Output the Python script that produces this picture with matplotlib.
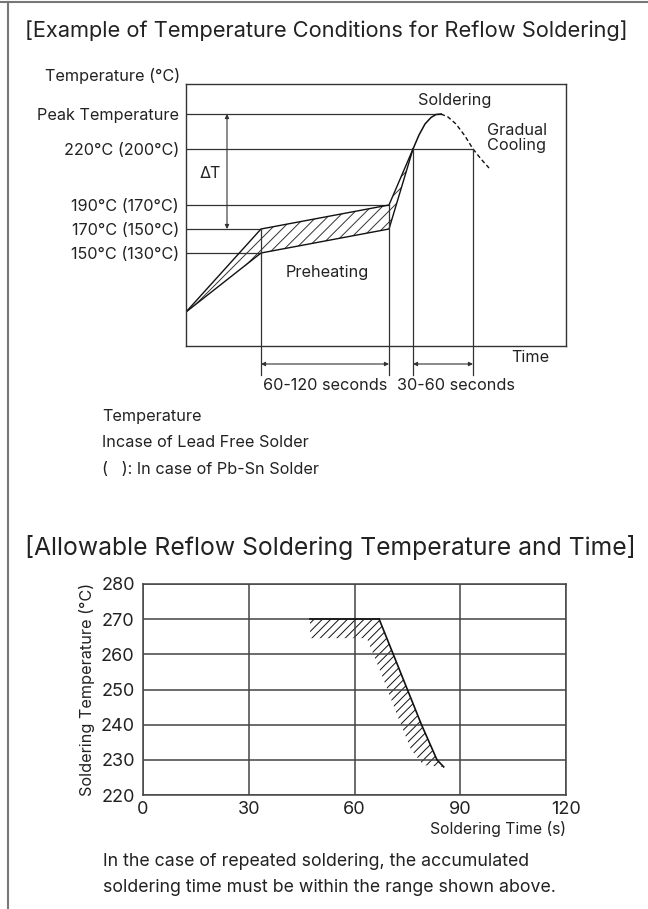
import matplotlib
matplotlib.use("Agg")
import matplotlib.pyplot as plt
from matplotlib.lines import Line2D

plt.rcParams['font.family'] = ['Inter', 'DejaVu Sans']
plt.rcParams['hatch.linewidth'] = 0.7

TXT = '#222222'
LN = '#333333'
FS = 11.7

# ---------------- Chart 1 (schematic profile) ----------------
level_labels = ['Peak Temperature', '220°C (200°C)', '190°C (170°C)',
                '170°C (150°C)', '150°C (130°C)']
level_y = [232, 197, 141, 117, 93]          # schematic heights
pre_x = [0, 75, 203, 227]                   # schematic time positions
pre_upper = [34, 117, 141, 197]
pre_lower = [34, 93, 117, 197]
sold_x = [227, 233, 239, 245, 250, 255]
sold_y = [197, 211, 222, 228.5, 231.5, 232]
cool_x = [255, 262, 270, 279, 287, 295, 303]
cool_y = [232, 229, 222, 210, 197, 187, 178]
level_ends = [255, 287, 203, 75, 75]
vert_x = [75, 203, 227, 287]
vert_top = [117, 141, 197, 197]
span_labels = ['60-120 seconds', '30-60 seconds']

# ---------------- Chart 2 (allowable) ----------------
lim_time = [67, 71, 75, 79, 83.4, 85.3]
lim_temp = [270, 260, 250, 240, 230, 228]
flat_time = [47.4, 67]
flat_temp = 270
band_time = [63.5, 67.8, 72, 76, 79.5]
band_temp = [264.6, 254, 243, 233, 228.5]
x_ticks = [0, 30, 60, 90, 120]
y_ticks = [220, 230, 240, 250, 260, 270, 280]

W, H = 648, 909
fig = plt.figure(figsize=(W / 100, H / 100), dpi=100)

def rect(l, t, r, b):
    return [l / W, 1 - b / H, (r - l) / W, (b - t) / H]

# border
fig.add_artist(Line2D([0, 1], [1 - 1.5 / H, 1 - 1.5 / H], color='#777777', lw=1.5))
fig.add_artist(Line2D([7.5 / W, 7.5 / W], [0, 1 - 1.5 / H], color='#777777', lw=1.5))

fig.text(25 / W, 1 - 31 / H, '[Example of Temperature Conditions for Reflow Soldering]',
         fontsize=15.7, color=TXT, va='center', ha='left')

ax1 = fig.add_axes(rect(186, 84, 566, 346))
ax1.set_xlim(0, 380)
ax1.set_ylim(0, 262)
for s in ax1.spines.values():
    s.set_color(LN)
    s.set_linewidth(1.0)
ax1.set_xticks([])
ax1.set_yticks(level_y, level_labels)
ax1.tick_params(axis='y', length=0, pad=5, labelsize=FS, labelcolor=TXT)

for y, xe in zip(level_y, level_ends):
    ax1.plot([0, xe], [y, y], color=LN, lw=0.9)

ax1.fill_between(pre_x, pre_lower, pre_upper, facecolor='none', edgecolor=LN,
                 hatch='///', lw=0)
ax1.plot(pre_x, pre_upper, color='#111111', lw=1.0)
ax1.plot(pre_x, pre_lower, color='#111111', lw=1.0)
ax1.plot(sold_x, sold_y, color='#111111', lw=1.1)
ax1.plot(cool_x, cool_y, color='#111111', lw=1.0, ls=(0, (3, 2)))

for x, yt in zip(vert_x, vert_top):
    ax1.plot([x, x], [yt, -29], color=LN, lw=0.9, clip_on=False)

arr = dict(arrowstyle='<|-|>', color=LN, lw=0.8, mutation_scale=6, shrinkA=0, shrinkB=0)
ax1.annotate('', xy=(vert_x[0], -18), xytext=(vert_x[1], -18), arrowprops=arr,
             annotation_clip=False)
ax1.annotate('', xy=(vert_x[2], -18), xytext=(vert_x[3], -18), arrowprops=arr,
             annotation_clip=False)
ax1.text((vert_x[0] + vert_x[1]) / 2, -39, span_labels[0], ha='center', va='center',
         fontsize=FS, color=TXT, clip_on=False)
ax1.text(270, -39, span_labels[1], ha='center', va='center',
         fontsize=FS, color=TXT, clip_on=False)
ax1.annotate('', xy=(41, level_y[0]), xytext=(41, level_y[3]), arrowprops=arr)
ax1.text(24, 173, 'ΔT', ha='center', va='center', fontsize=FS, color=TXT)
ax1.text(269, 246, 'Soldering', ha='center', va='center', fontsize=FS, color=TXT)
ax1.text(301, 208, 'Gradual\nCooling', ha='left', va='center', fontsize=FS,
         color=TXT, linespacing=0.95)
ax1.text(141, 73, 'Preheating', ha='center', va='center', fontsize=FS, color=TXT)
ax1.text(344, -11, 'Time', ha='center', va='center', fontsize=FS, color=TXT,
         clip_on=False)
ax1.text(-6, 270, 'Temperature (°C)', ha='right', va='center', fontsize=FS,
         color=TXT, clip_on=False)

for i, t in enumerate(['Temperature', 'Incase of Lead Free Solder',
                       '(   ): In case of Pb-Sn Solder']):
    fig.text(102 / W, 1 - (416 + 26.5 * i) / H, t, fontsize=FS, color=TXT,
             ha='left', va='center')

fig.text(25 / W, 1 - 547 / H, '[Allowable Reflow Soldering Temperature and Time]',
         fontsize=17.8, color=TXT, va='center', ha='left')

ax2 = fig.add_axes(rect(143, 584, 566, 795))
ax2.set_xlim(0, 120)
ax2.set_ylim(220, 280)
ax2.set_xticks(x_ticks)
ax2.set_yticks(y_ticks)
ax2.grid(True, color='#444444', lw=1.1)
for s in ax2.spines.values():
    s.set_color('#444444')
    s.set_linewidth(1.1)
ax2.tick_params(length=0, labelsize=13, labelcolor=TXT)
ax2.tick_params(axis='x', pad=4)
ax2.tick_params(axis='y', pad=6)

poly_t = [flat_time[0], flat_time[1]] + lim_time[1:] + band_time[::-1] + [flat_time[0]]
poly_T = [flat_temp, flat_temp] + lim_temp[1:] + band_temp[::-1] + [band_temp[0]]
ax2.fill(poly_t, poly_T, facecolor='none', edgecolor='#111111', hatch='////', lw=0)
ax2.plot(flat_time, [flat_temp, flat_temp], color='#111111', lw=1.2)
ax2.plot(lim_time, lim_temp, color='#111111', lw=1.2)

ax2.set_ylabel('Soldering Temperature (°C)', fontsize=FS, color=TXT, labelpad=4)
ax2.text(1.0, -0.16, 'Soldering Time (s)', transform=ax2.transAxes, ha='right',
         va='center', fontsize=11.3, color=TXT)

fig.text(103 / W, 1 - 862 / H, 'In the case of repeated soldering, the accumulated',
         fontsize=12.75, color=TXT, ha='left', va='center')
fig.text(103 / W, 1 - 888 / H, 'soldering time must be within the range shown above.',
         fontsize=12.75, color=TXT, ha='left', va='center')

fig.savefig('out.png', dpi=100)
